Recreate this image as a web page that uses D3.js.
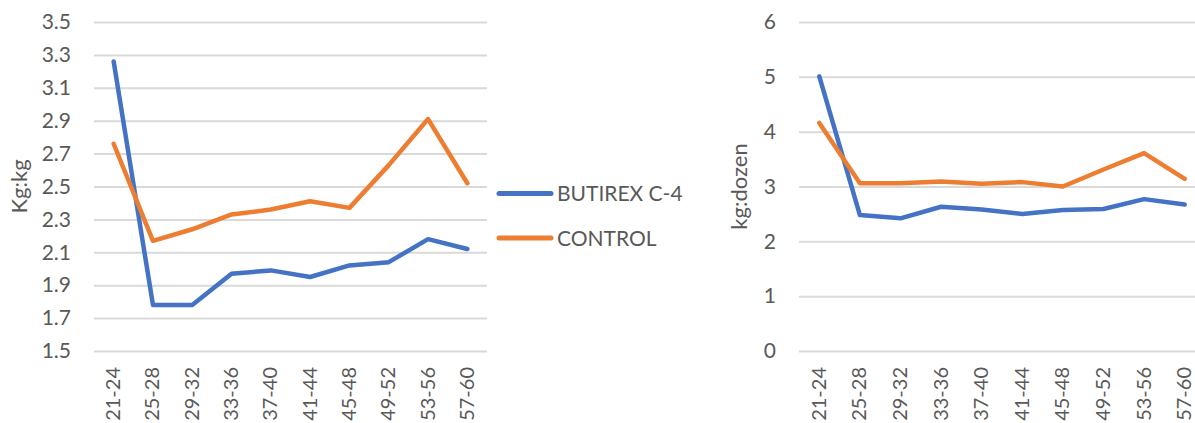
<!DOCTYPE html>
<html>
<head>
<meta charset="utf-8">
<script src="https://cdn.jsdelivr.net/npm/d3@7"></script>
<style>
  html, body { margin: 0; padding: 0; background: #fff; }
  svg { display: block; }
  text { font-family: Lato, "Open Sans", sans-serif; fill: #595959; }
</style>
</head>
<body>
<svg id="chart" width="1195" height="423"></svg>
<script>
const categories = ["21-24","25-28","29-32","33-36","37-40","41-44","45-48","49-52","53-56","57-60"];
const seriesNames = ["BUTIREX C-4", "CONTROL"];
const leftButirex = [3.26, 1.78, 1.78, 1.97, 1.99, 1.95, 2.02, 2.04, 2.18, 2.12];
const leftControl = [2.76, 2.17, 2.24, 2.33, 2.36, 2.41, 2.37, 2.63, 2.91, 2.52];
const rightButirex = [5.01, 2.48, 2.42, 2.63, 2.58, 2.50, 2.57, 2.59, 2.77, 2.67];
const rightControl = [4.16, 3.06, 3.06, 3.09, 3.05, 3.08, 3.00, 3.31, 3.61, 3.14];
const leftTicks = [1.5, 1.7, 1.9, 2.1, 2.3, 2.5, 2.7, 2.9, 3.1, 3.3, 3.5];
const rightTicks = [0, 1, 2, 3, 4, 5, 6];
const colors = ["#4472C4", "#ED7D31"];

const svg = d3.select("#chart");

function drawPanel(cfg) {
  const g = svg.append("g");
  const x = d3.scaleBand().domain(categories).range([cfg.x0, cfg.x1]);
  const y = d3.scaleLinear().domain(cfg.domain).range([351, 22]);

  // gridlines
  const grid = d3.axisLeft(y).tickValues(cfg.ticks).tickSize(-(cfg.x1 - cfg.x0)).tickFormat("");
  const gg = g.append("g").attr("transform", `translate(${cfg.x0},0)`).call(grid);
  gg.select(".domain").remove();
  gg.selectAll("line").attr("stroke", "#d9d9d9").attr("stroke-width", 2);

  // y labels
  const ya = d3.axisLeft(y).tickValues(cfg.ticks).tickSize(0).tickPadding(0).tickFormat(cfg.fmt);
  const ag = g.append("g").attr("transform", `translate(${cfg.labelX},0)`).call(ya);
  ag.select(".domain").remove();
  ag.selectAll("text").style("font-size", "21px").attr("fill", "#595959")
    .style("font-family", "Lato, 'Open Sans', sans-serif");

  // x labels (rotated)
  g.selectAll(".xl").data(categories).enter().append("text")
    .attr("class", "xl")
    .attr("transform", d => `translate(${x(d) + x.bandwidth() / 2 + 6.5},367) rotate(-90)`)
    .attr("text-anchor", "end")
    .style("font-size", "20px")
    .text(d => d);

  // y title
  g.append("text")
    .attr("transform", `translate(${cfg.titleX},186.5) rotate(-90)`)
    .attr("text-anchor", "middle")
    .style("font-size", "22px")
    .text(cfg.title);

  const line = d3.line()
    .x((d, i) => x(categories[i]) + x.bandwidth() / 2)
    .y(d => y(d));
  cfg.series.forEach((s, i) => {
    g.append("path").datum(s)
      .attr("d", line)
      .attr("fill", "none")
      .attr("stroke", colors[i])
      .attr("stroke-width", 4.5)
      .attr("stroke-linejoin", "round")
      .attr("stroke-linecap", "round");
  });
}

drawPanel({
  x0: 94, x1: 487, domain: [1.5, 3.5], ticks: leftTicks, fmt: d3.format(".1f"),
  labelX: 71, titleX: 27, title: "Kg:kg", series: [leftButirex, leftControl]
});
drawPanel({
  x0: 799, x1: 1205, domain: [0, 6], ticks: rightTicks, fmt: d3.format("d"),
  labelX: 776, titleX: 747, title: "kg:dozen", series: [rightButirex, rightControl]
});

// legend
const legend = svg.append("g");
seriesNames.forEach((name, i) => {
  const ly = 193.5 + i * 44.5;
  legend.append("line")
    .attr("x1", 499).attr("x2", 551).attr("y1", ly).attr("y2", ly)
    .attr("stroke", colors[i]).attr("stroke-width", 5).attr("stroke-linecap", "round");
  legend.append("text")
    .attr("x", 557).attr("y", ly + 7.5)
    .style("font-size", "21px")
    .text(name);
});
</script>
</body>
</html>
